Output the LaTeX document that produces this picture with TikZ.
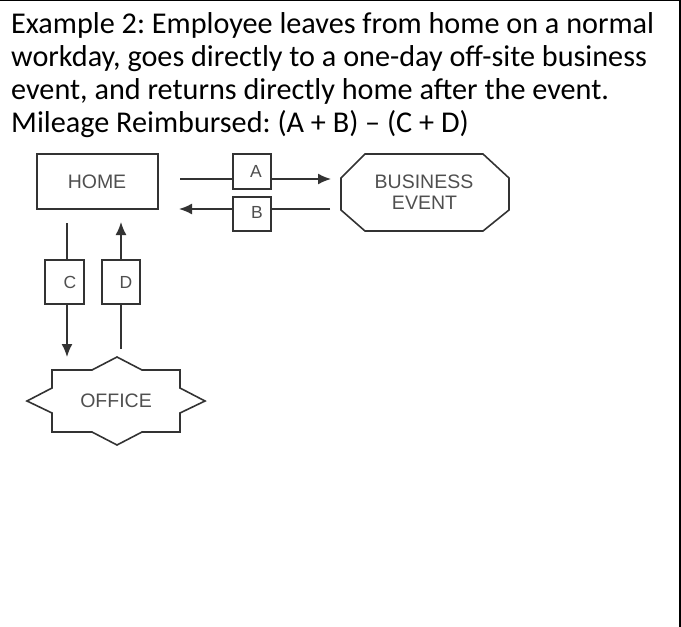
\documentclass[tikz,border=0pt]{standalone}
\usepackage{fontspec}
\setmainfont{Carlito}
\newfontfamily\diafont{Liberation Sans}
\usetikzlibrary{arrows.meta}
\definecolor{linegray}{HTML}{333333}
\definecolor{labgray}{HTML}{4F4F4F}
\frenchspacing
\begin{document}
\begin{tikzpicture}[x=1pt,y=-1pt,
  headline/.style={anchor=base west,inner sep=0pt,font=\fontsize{30.2}{33}\selectfont},
  shapeline/.style={draw=linegray,line width=1.6pt},
  lab/.style={font=\diafont\fontsize{19.5}{21}\selectfont,text=labgray,inner sep=0pt},
  letter/.style={font=\diafont\fontsize{17.5}{19}\selectfont,text=labgray,inner sep=0pt},
  conn/.style={draw=linegray,line width=1.6pt},
  arr/.style={conn,-{Latex[length=13pt,width=11pt]}},
  lbox/.style={shapeline,fill=white,inner sep=0pt}]
\useasboundingbox (0,0) rectangle (681,627);
\draw[black,line width=1.2pt] (0,0.6) -- (680,0.6);
\draw[black,line width=2pt] (679.5,0) -- (679.5,627);
% heading
\node[headline] (t1) at (11,33) {Example 2: Employee leaves from home on a normal};
\node[headline] (t2) at (11,66.3) {workday, goes directly to a one-day off-site business};
\node[headline] (t3) at (11,99.6) {event, and returns directly home after the event.};
\node[headline] (t4) at (11,132.9) {Mileage Reimbursed: (A + B) -- (C + D)};
% HOME
\draw[shapeline] (37,154) rectangle (158,209);
\node[lab] (home) at (97,181.5) {HOME};
% BUSINESS EVENT octagon
\draw[shapeline] (365,154) -- (483,154) -- (509,178) -- (509,210) -- (483,231) -- (365,231) -- (341,210) -- (341,178) -- cycle;
\node[lab] (event1) at (424,182) {BUSINESS};
\node[lab] (event2) at (424.5,202.5) {EVENT};
% OFFICE star
\draw[shapeline] (117,357) -- (142,370) -- (180,370) -- (180,388) -- (205,401) -- (180,413) -- (180,432) -- (142,432) -- (117,445) -- (92,432) -- (52,432) -- (52,413) -- (27,401) -- (52,388) -- (52,370) -- (92,370) -- cycle;
\node[lab] (office) at (116,401) {OFFICE};
% coordinates for connector ends
\coordinate (aS) at (180,179);
\coordinate (aE) at (331,179);
\coordinate (bS) at (330,209);
\coordinate (bE) at (179,209);
\coordinate (cS) at (67,223);
\coordinate (cE) at (67,357);
\coordinate (dS) at (121,349);
\coordinate (dE) at (121,222);
\draw[arr] (aS) -- (aE);
\draw[arr] (bS) -- (bE);
\draw[arr] (cS) -- (cE);
\draw[arr] (dS) -- (dE);
% label boxes
\node[lbox,minimum width=38pt,minimum height=35pt] (A) at (252,171.5) {};
\node[letter] (Atxt) at (256,171) {A};
\node[lbox,minimum width=38pt,minimum height=34pt] (B) at (252,214) {};
\node[letter] (Btxt) at (257,212.5) {B};
\node[lbox,minimum width=39pt,minimum height=44pt] (C) at (64.5,282) {};
\node[letter] (Ctxt) at (70,282) {C};
\node[lbox,minimum width=38pt,minimum height=44pt] (D) at (121,282) {};
\node[letter] (Dtxt) at (126,282) {D};
\end{tikzpicture}
\end{document}
